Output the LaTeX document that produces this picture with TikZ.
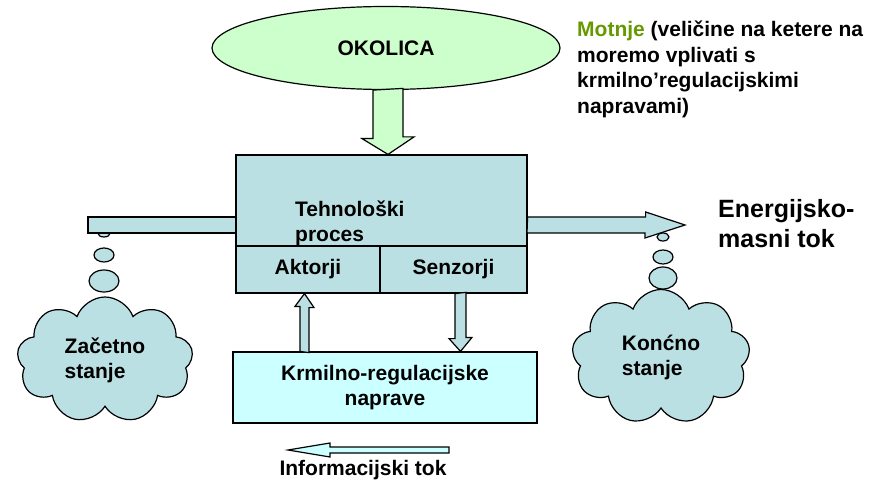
\documentclass[tikz,border=0pt]{standalone}
\usepackage{fontspec}
\setmainfont{Liberation Sans}
\usetikzlibrary{shapes.geometric,shapes.symbols,calc}

\definecolor{okgreen}{RGB}{204,255,204}
\definecolor{procblue}{RGB}{187,224,227}
\definecolor{steercyan}{RGB}{204,255,255}
\definecolor{motgreen}{RGB}{102,153,0}

\tikzset{
  lbl/.style={font=\bfseries\fontsize{21}{25}\selectfont, inner sep=0pt},
  procbox/.style={draw, line width=1.2pt, fill=procblue, lbl},
  flowbox/.style={draw, line width=1.2pt, fill=procblue},
  bubble/.style={ellipse, draw, line width=1.2pt, fill=procblue, inner sep=0pt},
  thought/.style={cloud, cloud puffs=9, cloud puff arc=140, cloud ignores aspect,
    draw, line width=1.2pt, fill=procblue, lbl, align=left},
}

\begin{document}
\begin{tikzpicture}[x=1pt,y=1pt]
  \useasboundingbox (0,0) rectangle (884,480);

  % environment and process
  \node[ellipse, draw, line width=1.2pt, fill=okgreen, lbl, minimum width=348pt, minimum height=83pt] (okolica) at (386,432) {OKOLICA};
  \node[procbox, minimum width=291pt, minimum height=91pt] (proces) at (381.5,279.5) {};
  \node[lbl, align=left, anchor=north west] (proctxt) at (295,279) {Tehnološki\\proces};
  \node[procbox, minimum width=144pt, minimum height=47pt] (aktorji) at (308,210.5) {Aktorji};
  \node[procbox, minimum width=147pt, minimum height=47pt] (senzorji) at (453.5,210.5) {Senzorji};
  \node[procbox, fill=steercyan, align=center, minimum width=304pt, minimum height=71pt] (steer) at (385,92.5) {Krmilno-regulacijske\\naprave};

  % start and end state
  \coordinate (inflow) at (88,255);
  \coordinate (outflow) at (685,255);
  \node[bubble, minimum width=12pt, minimum height=7pt] (zac1) at (104,246.5) {};
  \node[bubble, minimum width=20pt, minimum height=14pt] (zac2) at (104,225) {};
  \node[bubble, minimum width=30pt, minimum height=22pt] (zac3) at (104,199) {};
  \node[thought, minimum width=176pt, minimum height=126pt] (zacetno) at (105,120) {Začetno\\stanje};
  \node[bubble, minimum width=12pt, minimum height=8pt] (kon1) at (663,243) {};
  \node[bubble, minimum width=20pt, minimum height=14pt] (kon2) at (663,223) {};
  \node[bubble, minimum width=28pt, minimum height=22pt] (kon3) at (663,202) {};
  \node[thought, minimum width=178pt, minimum height=135pt] (koncno) at (661,123) {Konćno\\stanje};

  % block arrows
  \draw[flowbox, fill=okgreen] ($(okolica.south)+(-13,0)$) -- ++(0,-48.5) -- ++(-11,0)
    -- ($(proces.north)+(6.5,0)$) -- ++(26,17.5) -- ++(-11,0) -- ++(0,48.5) -- cycle;
  \draw[flowbox] ($(inflow)+(0,8)$) -- ($(proces.west)+(0,-16.5)$) -- ++(0,-16)
    -- ($(inflow)+(0,-8)$) -- cycle;
  \draw[flowbox] ($(proces.east)+(0,-16.5)$) -- ++(118,0) -- ++(0,5) -- (outflow)
    -- ++(-40,-13) -- ++(0,5) -- ++(-118,0) -- cycle;
  \draw[flowbox] ($(steer.north)+(-85,0)$) -- ++(0,45) -- ++(-5,0)
    -- ($(aktorji.south)+(-3.5,0)$) -- ++(9.5,-14) -- ++(-5,0) -- ++(0,-45) -- cycle;
  \draw[flowbox] ($(senzorji.south)+(1.5,0)$) -- ++(0,-45) -- ++(-6,0)
    -- ($(steer.north)+(75.5,0)$) -- ++(11.5,14) -- ++(-6,0) -- ++(0,45) -- cycle;

  % information flow
  \coordinate (infoR) at (449,30);
  \coordinate (infoL) at (288,30);
  \draw[flowbox, fill=steercyan] ($(infoR)+(0,3)$) -- ++(-119,0) -- ++(0,4) -- (infoL)
    -- ++(42,-7) -- ++(0,4) -- ++(119,0) -- cycle;
  \node[lbl, anchor=base] (infotxt) at (363,5) {Informacijski tok};

  % texts
  \node[lbl, font=\bfseries\fontsize{25}{30}\selectfont, align=left, anchor=north west] (energija) at (718,281) {Energijsko-\\masni tok};
  \node[lbl, font=\bfseries\fontsize{21}{25.5}\selectfont, align=left, anchor=north west] (motnje) at (577,459)
    {\textcolor{motgreen}{Motnje} (veličine na ketere na\\moremo vplivati s\\krmilno’regulacijskimi\\napravami)};
\end{tikzpicture}
\end{document}
